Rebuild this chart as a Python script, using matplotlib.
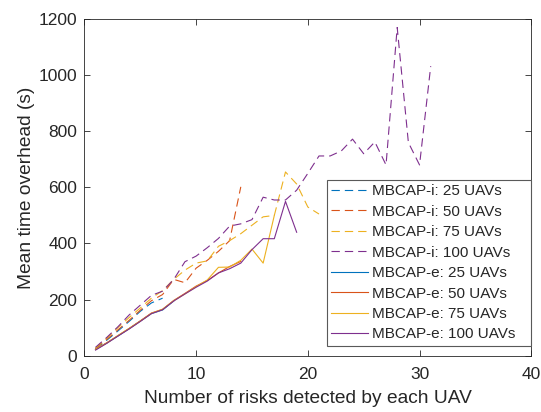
import numpy as np
import matplotlib.pyplot as plt


# MATLAB default line colours
BLUE = "#0072BD"
ORANGE = "#D95319"
YELLOW = "#EDB120"
PURPLE = "#7E2F8E"

# MBCAP-i (dashed) curves
i25_x = [1, 2, 3, 4, 5, 6, 7]
i25_y = [25, 55, 88, 122, 158, 188, 205]

i50_x = [1, 2, 3, 4, 5, 6, 7, 8, 9, 10, 11, 12, 13, 14]
i50_y = [26, 58, 92, 126, 162, 196, 218, 272, 260, 312, 340, 372, 410, 602]

i75_x = [1, 2, 3, 4, 5, 6, 7, 8, 9, 10, 11, 12, 13, 14, 15, 16, 17, 18, 19, 20, 21]
i75_y = [27, 62, 100, 136, 170, 205, 232, 272, 305, 330, 338, 390, 410, 435,
         465, 495, 500, 655, 612, 530, 505]

i100_x = list(range(1, 32))
i100_y = [30, 65, 103, 145, 180, 215, 230, 272, 335, 355, 385, 418, 462, 470,
          485, 565, 555, 555, 590, 650, 712, 712, 730, 772, 720, 762, 680,
          1170, 760, 680, 1032]

# MBCAP-e (solid) curves
e25_x = [1, 2, 3, 4, 5, 6, 7, 8]
e25_y = [22, 45, 70, 96, 123, 150, 163, 195]

e50_x = [1, 2, 3, 4, 5, 6, 7, 8, 9, 10, 11, 12, 13, 14]
e50_y = [23, 46, 71, 97, 124, 152, 165, 197, 222, 248, 268, 295, 318, 336]

e75_x = [1, 2, 3, 4, 5, 6, 7, 8, 9, 10, 11, 12, 13, 14, 15, 16, 17]
e75_y = [22, 45, 72, 97, 123, 151, 166, 196, 220, 246, 270, 315, 316, 340,
         380, 330, 500]

e100_x = [1, 2, 3, 4, 5, 6, 7, 8, 9, 10, 11, 12, 13, 14, 15, 16, 17, 18, 19]
e100_y = [20, 44, 70, 95, 122, 150, 164, 195, 220, 244, 266, 295, 310, 330,
          378, 417, 417, 550, 440]


plt.rcParams.update({
    "font.family": ["Liberation Sans", "DejaVu Sans"],
    "lines.scale_dashes": False,
    "axes.edgecolor": "0.15",
    "xtick.color": "0.15",
    "ytick.color": "0.15",
})

fig = plt.figure(figsize=(5.41, 4.12), dpi=100)
ax = fig.add_axes([0.156, 0.1367, 0.826, 0.817])

dash = (6, 3.6)
lw = 0.8

ax.plot(i25_x, i25_y, color=BLUE, lw=lw, dashes=dash, label="MBCAP-i: 25 UAVs")
ax.plot(i50_x, i50_y, color=ORANGE, lw=lw, dashes=dash, label="MBCAP-i: 50 UAVs")
ax.plot(i75_x, i75_y, color=YELLOW, lw=lw, dashes=dash, label="MBCAP-i: 75 UAVs")
ax.plot(i100_x, i100_y, color=PURPLE, lw=lw, dashes=dash, label="MBCAP-i: 100 UAVs")
ax.plot(e25_x, e25_y, color=BLUE, lw=lw, label="MBCAP-e: 25 UAVs")
ax.plot(e50_x, e50_y, color=ORANGE, lw=lw, label="MBCAP-e: 50 UAVs")
ax.plot(e75_x, e75_y, color=YELLOW, lw=lw, label="MBCAP-e: 75 UAVs")
ax.plot(e100_x, e100_y, color=PURPLE, lw=lw, label="MBCAP-e: 100 UAVs")

ax.set_xlim(0, 40)
ax.set_ylim(0, 1200)
ax.set_xticks([0, 10, 20, 30, 40])
ax.set_yticks([0, 200, 400, 600, 800, 1000, 1200])

ax.tick_params(direction="in", top=True, right=True, length=4, width=0.6,
               labelsize=12.5, labelcolor="0.15")
ax.tick_params(axis="x", pad=8.5)
ax.tick_params(axis="y", pad=5)
for spine in ax.spines.values():
    spine.set_linewidth(0.6)

ax.set_xlabel("Number of risks detected by each UAV", fontsize=13.8, color="0.15")
ax.set_ylabel("Mean time overhead (s)", fontsize=13.8, color="0.15")
ax.xaxis.set_label_coords(0.5, -0.103)
ax.yaxis.set_label_coords(-0.111, 0.5)

# wide box with the entries pushed to the left, like MATLAB draws it
leg = ax.legend(loc="lower left", bbox_to_anchor=(0.542, 0.029, 0.457, 0.49),
                mode="expand", fontsize=11, fancybox=False, framealpha=1,
                edgecolor="0.35", handlelength=2.4, handletextpad=0.24,
                labelspacing=0.42, borderpad=0.3, borderaxespad=0)
leg.get_frame().set_linewidth(0.8)
for text in leg.get_texts():
    text.set_color("0.15")

fig.savefig("out.png", dpi=100)
